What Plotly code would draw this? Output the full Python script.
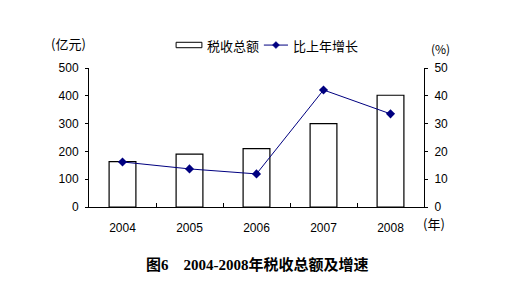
import plotly.graph_objects as go

years = ["2004", "2005", "2006", "2007", "2008"]
tax_total = [163, 190, 210, 300, 402]        # 亿元
growth_rate = [16.2, 13.7, 11.9, 42.1, 33.5]  # %

num_font = "Liberation Sans, Arial, Noto Sans CJK SC"
cjk_font = "Noto Sans CJK SC, Liberation Sans"

fig = go.Figure()
fig.add_trace(go.Bar(
    x=years, y=tax_total, name="税收总额", width=0.4,
    marker=dict(color="white", line=dict(color="black", width=1.2)),
    showlegend=False,
))
fig.add_trace(go.Scatter(
    x=years, y=growth_rate, name="比上年增长", yaxis="y2",
    mode="lines+markers",
    line=dict(color="#000080", width=1),
    marker=dict(symbol="diamond", size=7, color="#000080"),
    showlegend=False,
))

axis_common = dict(showgrid=False, zeroline=False, showline=True,
                   linecolor="black", linewidth=1,
                   ticks="outside", ticklen=3, tickcolor="black",
                   ticklabelstandoff=4,
                   tickfont=dict(family=num_font, size=12, color="black"))

fig.update_layout(
    width=515, height=286,
    margin=dict(l=89, r=91, t=68, b=79),
    paper_bgcolor="white", plot_bgcolor="white",
    xaxis=dict(type="category", showgrid=False, showline=True,
               linecolor="black", linewidth=1,
               ticks="inside", tickson="boundaries", ticklen=4,
               tickcolor="black", ticklabelstandoff=10,
               tickfont=dict(family=num_font, size=12, color="black")),
    yaxis=dict(range=[0, 500], dtick=100, **axis_common),
    yaxis2=dict(range=[0, 50], dtick=10, overlaying="y", side="right",
                **axis_common),
)


def note(text, x, y, size=13, xanchor="center", family=cjk_font, color="black"):
    fig.add_annotation(text=text, xref="paper", yref="paper", x=x, y=y,
                       showarrow=False, xanchor=xanchor, yanchor="middle",
                       font=dict(family=family, size=size, color=color))


# unit labels
note("(亿元)", -0.061, 1.173)
note("(%)", 1.048, 1.137, size=12)
note("(年)", 1.03, -0.122)

# legend
fig.add_shape(type="rect", xref="paper", yref="paper",
              x0=0.26, x1=0.337, y0=1.146, y1=1.185,
              line=dict(color="black", width=1), fillcolor="white")
note("税收总额", 0.346, 1.165, xanchor="left")
fig.add_shape(type="line", xref="paper", yref="paper",
              x0=0.522, x1=0.594, y0=1.165, y1=1.165,
              line=dict(color="#000080", width=1))
fig.add_shape(type="path", xref="paper", yref="paper",
              xsizemode="pixel", ysizemode="pixel",
              xanchor=0.558, yanchor=1.165,
              path="M -3.5,0 L 0,3.5 L 3.5,0 L 0,-3.5 Z",
              fillcolor="#000080", line=dict(color="#000080", width=0.5))
note("比上年增长", 0.603, 1.165, xanchor="left")

# caption
note("<b>图6    2004-2008年税收总额及增速</b>", 0.503, -0.417,
     size=15, family="Liberation Serif, Noto Sans CJK SC")

fig.write_html("out.html")
